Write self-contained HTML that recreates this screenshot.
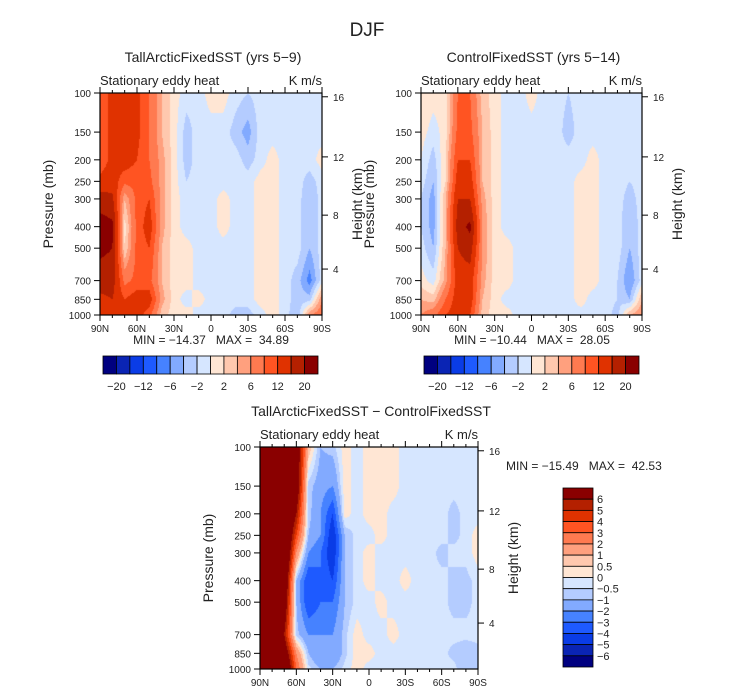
<!DOCTYPE html>
<html><head><meta charset="utf-8"><style>
body{margin:0;background:#fff;}
#wrap{position:relative;width:733px;height:693px;overflow:hidden;font-family:"Liberation Sans",sans-serif;color:#222;}
svg text{font-family:"Liberation Sans",sans-serif;fill:#222;white-space:pre;}
</style></head><body>
<div id="wrap">
<svg id="svg" width="733" height="693" xmlns="http://www.w3.org/2000/svg">
<text x="367" y="36" font-size="19" text-anchor="middle">DJF</text>
</svg>
</div>
<script>
const lats=[90,80,70,60,50,40,30,20,10,0,-10,-20,-30,-40,-50,-60,-70,-80,-90];
const levels=[100,150,200,250,300,400,500,700,850,1000];
const field1=[
[10,13,14,13,9,4,1,-1,-1,1,1,-1,-2,-1,-1,-1,-1,-1,-1],
[10,13,14,13,9,4,1,-3,-1,-1,-1,-3,-5,-1,-1,-1,-1,-1,-1],
[10,13,14,12,9,5,1,-3,-1,-1,-1,-1,-3,-1,1,-1,-1,-1,1],
[13,14,10,10,10,5,1,-2,-1,-1,-1,-1,-1,1,1,-1,-1,-3,-1],
[18,17,4,10,12,5,1,-1,-1,-1,1,-1,-1,1,1,-1,-1,-4,-1],
[22,21,1,10,14,5,1,-1,-1,-1,1,-1,-1,1,1,-1,-1,-4,-1],
[21,20,2,10,12,4,1,1,-1,-1,-1,-1,-1,1,1,-1,-1,-4,-1],
[18,18,8,10,10,4,1,1,-1,-1,-1,-1,-1,1,1,-1,-3,-7,-1],
[15,16,12,14,14,5,1,-1,1,-1,-1,-1,-1,1,1,-1,-3,-3,6],
[14,12,16,14,10,3,1,1,-1,-1,-1,-3,-3,-1,1,-1,-4,6,8]];
const field2=[
[2,1,1,9,9,3,1,-1,-1,1,-1,-1,-2,-1,-1,-1,-1,-1,-1],
[1,-1,1,10,10,4,1,-1,-1,-1,-1,-1,-3,-1,-1,-1,-1,-1,-1],
[0,-3,2,12,12,4,1,-1,-1,-1,-1,-1,-1,-1,1,-1,-1,-1,-1],
[-1,-4,2,14,14,4,1,-1,-1,-1,-1,-1,-1,1,1,-1,-1,-2,-1],
[-2,-5,4,16,16,5,1,-1,-1,-1,-1,-1,-1,1,1,-1,-1,-3,-1],
[-2,-5,4,18,21,6,1,-1,-1,-1,-1,-1,-1,1,1,-1,-1,-4,-1],
[-1,-4,4,16,18,6,1,1,-1,-1,-1,-1,-1,1,1,-1,-1,-4,-1],
[1,-1,5,14,14,5,1,1,-1,-1,-1,-1,-1,1,1,-1,-2,-6,-1],
[4,3,9,14,14,4,1,-1,-1,-1,-1,-1,-1,1,-1,-1,-2,-4,4],
[6,8,12,14,12,3,1,1,-1,-1,-1,-1,-1,-1,-1,-1,-3,4,6]];
const field3=[
[10,10,10,8,1,-1,-0.7,0.3,-0.3,0.3,0.3,0.3,-0.3,-0.3,-0.3,-0.3,-0.3,-0.3,-0.3],
[10,10,10,8,-0.7,-1.5,-2,0.3,-0.3,0.3,0.3,0.3,-0.3,-0.3,-0.3,-0.3,-0.3,-0.3,-0.3],
[10,10,10,6,-0.7,-2,-4,0.3,-0.3,0.3,0.3,-0.3,-0.3,-0.3,-0.3,-0.3,-0.7,-0.3,-0.3],
[10,10,10,4,-1,-2,-5,-1,-0.3,-0.3,0.3,-0.3,-0.3,-0.3,-0.3,-0.3,-0.7,-0.3,0.3],
[10,10,10,2,-2,-3,-5,-1,-0.3,0.3,-0.3,-0.3,-0.3,-0.3,-0.3,-0.7,-0.3,-0.3,0.3],
[10,10,9,-1,-4,-3,-4,-1,-0.3,0.3,-0.3,-0.3,0.3,-0.3,-0.3,-0.3,-0.7,-0.7,-0.3],
[10,10,8,-1,-4,-3,-3,-1,-0.3,-0.3,0.3,-0.3,-0.3,-0.3,-0.3,-0.3,-0.7,-0.7,-0.3],
[10,10,6,-0.7,-2,-2,-2,-0.7,0.3,-0.3,-0.3,0.3,-0.3,-0.3,-0.3,-0.3,-0.3,-0.3,-0.3],
[10,10,8,2,-1,-2,-2,-0.7,0.3,0.3,-0.3,-0.3,-0.3,-0.3,-0.3,-0.3,-0.7,-1,-0.7],
[10,10,10,3,-0.3,-1,-1,-0.3,0.3,-0.3,-0.3,-0.3,-0.3,-0.3,-0.3,-0.3,-0.3,-1,-0.7]];
const bounds12=[-20,-16,-12,-9,-6,-4,-2,0,2,4,6,9,12,16,20];
const cbLabels12=["-20","-12","-6","-2","2","6","12","20"];
const bounds3=[-6,-5,-4,-3,-2,-1,-0.5,0,0.5,1,2,3,4,5,6];
const cbLabels3=["-6","-5","-4","-3","-2","-1","-0.5","0","0.5","1","2","3","4","5","6"];
const pTicks=[100,150,200,250,300,400,500,700,850,1000];
const kmTicks=[4,8,12,16];
const kmPressure=[621,355,194,104];
const latTicks=[90,60,30,0,-30,-60,-90];
const latLabels=["90N","60N","30N","0","30S","60S","90S"];
const colors=["#000080","#0a24b4","#0a3ce6","#1e5aff","#4682ff","#82aaff","#b4ccff","#d6e6ff","#ffe6d4","#ffc8ae","#ffa07e","#ff7a50","#ff5422","#e03200","#b42000","#8a0000"];

const NS="http://www.w3.org/2000/svg";
const svg=document.getElementById('svg');
function mk(tag,attrs,name,txt){const e=document.createElementNS(NS,tag);for(const k in attrs)e.setAttribute(k,attrs[k]);


if(txt!==undefined)e.textContent=txt;svg.appendChild(e);return e;}
function colorFor(v,b){let i=0;while(i<b.length&&v>=b[i])i++;return colors[i];}
function sample(f,lat,lp){
 let fi=(90-lat)/10;let i0=Math.min(17,Math.floor(fi));let tx=fi-i0;
 let j0=0;const L=levels.map(Math.log10);
 while(j0<L.length-2&&lp>L[j0+1])j0++;
 let ty=(lp-L[j0])/(L[j0+1]-L[j0]);ty=Math.max(0,Math.min(1,ty));
 const a=f[j0][i0],b=f[j0][i0+1],c=f[j0+1][i0],d=f[j0+1][i0+1];
 return (a*(1-tx)+b*tx)*(1-ty)+(c*(1-tx)+d*tx)*ty;}
function panel(p){
 const {x0,y0,w,h,f,b,id}=p;
 const xs=lat=>x0+w*(90-lat)/180;
 const ys=pr=>y0+h*(Math.log10(pr)-2);
 const cv=document.createElement('canvas');cv.width=w;cv.height=h;const ctx=cv.getContext('2d');
 for(let py=0;py<h;py++){const lp=2+(py+0.5)/h;for(let px=0;px<w;px++){const lat=90-180*(px+0.5)/w;
  ctx.fillStyle=colorFor(sample(f,lat,lp),b);ctx.fillRect(px,py,1,1);}}
 mk('image',{x:x0,y:y0,width:w,height:h,href:cv.toDataURL()},id+'-contour-field');
 mk('rect',{x:x0,y:y0,width:w,height:h,fill:'none',stroke:'#000','stroke-width':1.2},id+'-plot-frame');
 latTicks.forEach((l,i)=>{const x=xs(l);
  mk('line',{x1:x,y1:y0+h,x2:x,y2:y0+h+6,stroke:'#000'},id+'-x-tick');
  mk('line',{x1:x,y1:y0,x2:x,y2:y0-6,stroke:'#000'},id+'-x-tick-top');
  mk('text',{x:x,y:y0+h+17,'font-size':10,'text-anchor':'middle'},id+'-x-tick-label',latLabels[i]);});
 for(let l=80;l>-90;l-=10){if(l%30===0)continue;const x=xs(l);
  mk('line',{x1:x,y1:y0+h,x2:x,y2:y0+h+3,stroke:'#000'},id+'-x-minor-tick');
  mk('line',{x1:x,y1:y0,x2:x,y2:y0-3,stroke:'#000'},id+'-x-minor-tick-top');}
 pTicks.forEach(pr=>{const y=ys(pr);
  mk('line',{x1:x0-6,y1:y,x2:x0,y2:y,stroke:'#000'},id+'-y-tick');
  mk('text',{x:x0-9,y:y+4,'font-size':10,'text-anchor':'end'},id+'-y-tick-label',String(pr));});
 kmTicks.forEach((k,i)=>{const y=ys(kmPressure[i]);
  mk('line',{x1:x0+w,y1:y,x2:x0+w+6,y2:y,stroke:'#000'},id+'-km-tick');
  mk('text',{x:x0+w+11,y:y+4,'font-size':10},id+'-km-tick-label',String(k));});
 mk('text',{x:x0+w/2+2,y:y0-31,'font-size':14,'text-anchor':'middle'},id+'-title',p.title);
 mk('text',{x:x0,y:y0-8,'font-size':13},id+'-subtitle-left','Stationary eddy heat');
 mk('text',{x:x0+w,y:y0-8,'font-size':13,'text-anchor':'end'},id+'-units','K m/s');
 mk('text',{x:0,y:0,'font-size':14,'text-anchor':'middle',transform:`translate(${x0-47},${y0+h/2}) rotate(-90)`},id+'-y-axis-title','Pressure (mb)');
 mk('text',{x:0,y:0,'font-size':14,'text-anchor':'middle',transform:`translate(${x0+w+40},${y0+h/2}) rotate(-90)`},id+'-y2-axis-title','Height (km)');
}
function hbar(x0,y0,w,h,id){const bw=w/16;
 for(let i=0;i<16;i++)mk('rect',{x:x0+i*bw,y:y0,width:bw,height:h,fill:colors[i],stroke:'#000','stroke-width':0.8},id+'-colorbar-box');
 cbLabels12.forEach((t,k)=>mk('text',{x:x0+(2*k+1)*bw,y:y0+h+16,'font-size':11,'text-anchor':'middle'},id+'-colorbar-label',t.replace('-','\u2212')));}
panel({x0:100,y0:93,w:222,h:222,f:field1,b:bounds12,id:'p1',title:'TallArcticFixedSST (yrs 5\u22129)'});
panel({x0:421,y0:93,w:221,h:222,f:field2,b:bounds12,id:'p2',title:'ControlFixedSST (yrs 5\u221214)'});
panel({x0:260,y0:447,w:218,h:222,f:field3,b:bounds3,id:'p3',title:'TallArcticFixedSST \u2212 ControlFixedSST'});
mk('text',{x:211,y:344,'font-size':12,'text-anchor':'middle'},'p1-min-max','MIN = \u221214.37   MAX =  34.89');
mk('text',{x:532,y:344,'font-size':12,'text-anchor':'middle'},'p2-min-max','MIN = \u221210.44   MAX =  28.05');
mk('text',{x:506,y:470,'font-size':12},'p3-min-max','MIN = \u221215.49   MAX =  42.53');
hbar(103,356,215,18,'p1');
hbar(424,356,215,18,'p2');
{const x0=563,y0=488,w=30,h=179,bh=h/16;
 for(let i=0;i<16;i++)mk('rect',{x:x0,y:y0+i*bh,width:w,height:bh,fill:colors[15-i],stroke:'#000','stroke-width':0.8},'p3-colorbar-box');
 for(let k=0;k<15;k++)mk('text',{x:x0+w+4,y:y0+(k+1)*bh+4,'font-size':11},'p3-colorbar-label',cbLabels3[14-k].replace('-','\u2212'));}
</script>
</body></html>
